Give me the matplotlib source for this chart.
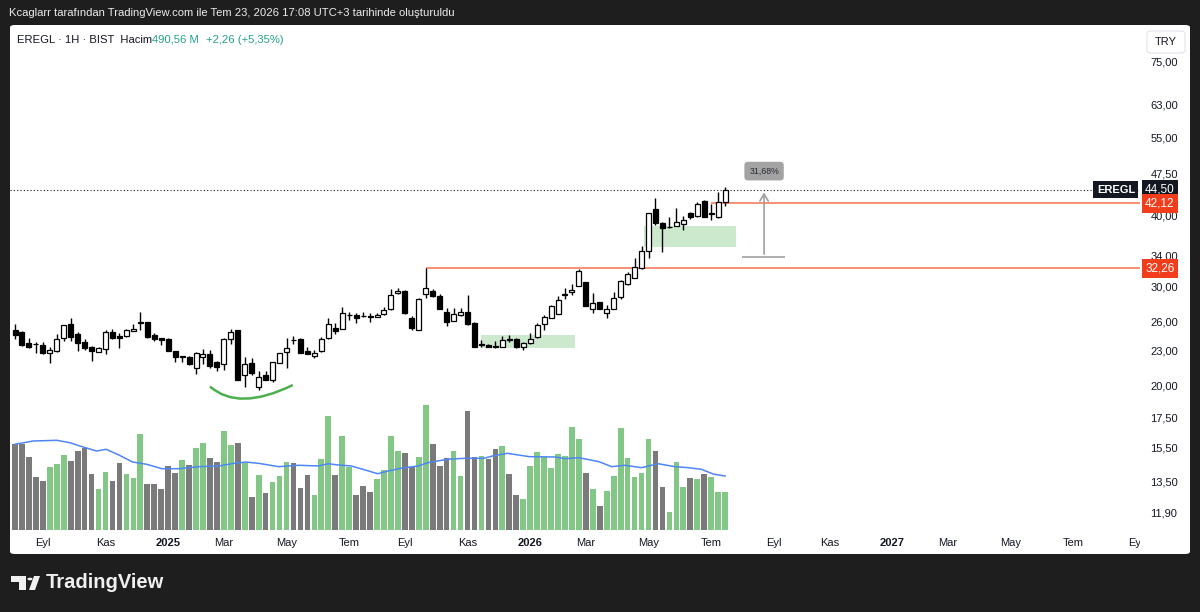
import datetime as dt

import matplotlib
matplotlib.use("Agg")
import matplotlib.pyplot as plt
import matplotlib.transforms as mtransforms
import numpy as np
from matplotlib.patches import FancyBboxPatch, Polygon, Circle, PathPatch
from matplotlib.path import Path
from matplotlib.ticker import NullLocator, NullFormatter

plt.rcParams['font.family'] = ['Liberation Sans', 'DejaVu Sans']

# haftalik mumlar, ilk mum 5 Agustos 2024 haftasi
ilk_hafta = dt.date(2024, 8, 5)

acilis = [25.06, 24.86, 23.80, 23.70, 23.57, 22.84, 23.00, 24.29, 25.69, 24.63,
          23.89, 23.41, 22.93, 23.18, 24.89, 24.49, 24.46, 24.96, 25.76, 25.90,
          24.53, 24.26, 24.16, 23.00, 22.45, 22.42, 21.43, 22.48, 22.72, 22.02,
          21.81, 24.13, 25.06, 20.85, 21.87, 19.87, 20.85, 20.43, 21.93, 22.93,
          24.06, 24.16, 23.03, 22.56, 23.00, 24.23, 25.30, 25.16, 26.62, 26.65,
          26.54, 26.49, 26.47, 26.73, 27.28, 29.12, 29.40, 26.29, 25.06, 29.00,
          29.44, 28.80, 26.95, 26.04, 26.65, 27.01, 25.83, 23.57, 23.57, 23.43,
          23.41, 24.16, 24.16, 23.35, 23.74, 24.33, 25.69, 26.36, 26.76, 28.96,
          29.24, 30.04, 30.46, 27.35, 28.10, 26.84, 27.35, 28.72, 30.21, 31.00,
          32.26, 34.62, 41.11, 38.78, 38.20, 38.40, 38.67, 40.50, 39.95, 42.48,
          40.28, 39.74, 42.30]
yuksek = [25.69, 24.96, 24.29, 23.89, 23.89, 23.41, 24.63, 25.58, 26.29, 24.83,
          24.16, 23.50, 23.41, 25.06, 25.16, 24.79, 25.16, 25.65, 27.01, 25.93,
          24.73, 24.29, 24.23, 23.03, 22.56, 22.56, 22.88, 23.15, 23.09, 22.08,
          24.23, 25.16, 25.11, 22.45, 22.39, 21.22, 21.22, 22.02, 22.84, 24.29,
          24.49, 24.23, 23.41, 23.09, 24.39, 26.29, 25.76, 27.57, 27.01, 26.84,
          26.95, 26.84, 26.84, 27.51, 29.64, 29.80, 29.46, 26.54, 28.53, 32.26,
          29.64, 29.00, 27.40, 27.40, 27.40, 28.92, 25.93, 24.06, 23.64, 23.96,
          24.49, 24.56, 24.23, 23.83, 24.79, 25.83, 26.65, 27.73, 28.80, 29.80,
          30.21, 32.13, 30.50, 29.12, 28.14, 27.76, 29.31, 30.69, 31.82, 33.64,
          35.27, 40.44, 43.05, 39.04, 39.84, 41.23, 40.00, 40.66, 42.36, 42.65,
          41.91, 44.12, 44.93]
dusuk = [24.13, 23.47, 23.25, 22.79, 22.72, 21.87, 22.95, 23.96, 23.99, 23.00,
         23.09, 22.08, 22.88, 22.72, 24.16, 23.31, 24.33, 24.91, 25.06, 24.23,
         23.96, 23.57, 23.00, 22.02, 21.96, 21.72, 20.94, 21.78, 21.43, 21.19,
         21.28, 23.67, 20.39, 19.85, 20.85, 19.61, 20.39, 20.29, 21.87, 21.43,
         23.64, 22.81, 22.70, 22.33, 22.93, 24.20, 24.63, 25.13, 26.11, 25.83,
         26.40, 25.93, 26.43, 26.69, 27.24, 29.09, 26.76, 25.06, 25.03, 28.61,
         28.65, 27.28, 25.48, 26.00, 26.58, 25.62, 23.35, 23.35, 23.35, 23.31,
         23.38, 23.83, 23.32, 23.09, 23.71, 24.23, 25.06, 26.29, 26.73, 28.41,
         28.92, 30.01, 27.62, 26.84, 27.28, 26.29, 27.31, 28.41, 30.18, 30.96,
         32.17, 33.60, 38.51, 34.52, 38.09, 38.35, 37.73, 39.46, 39.84, 39.74,
         39.30, 39.69, 41.67]
kapanis = [24.56, 23.57, 23.38, 23.67, 22.79, 23.09, 24.13, 25.55, 24.33, 23.74,
           23.25, 23.03, 23.31, 24.89, 24.29, 24.26, 25.06, 25.16, 25.90, 24.33,
           24.19, 24.06, 23.03, 22.42, 22.52, 21.81, 22.79, 22.70, 21.63, 21.57,
           24.13, 24.89, 20.43, 21.81, 20.99, 20.71, 20.43, 21.99, 22.79, 23.25,
           24.03, 22.84, 22.72, 22.84, 24.16, 25.65, 24.96, 26.84, 26.65, 26.29,
           26.51, 26.46, 26.65, 27.20, 28.92, 29.40, 26.84, 25.23, 28.45, 29.72,
           28.84, 27.31, 25.93, 26.73, 26.95, 25.65, 23.38, 23.64, 23.41, 23.40,
           24.06, 24.03, 23.35, 23.74, 24.19, 25.55, 26.47, 27.70, 28.33, 29.04,
           29.52, 31.95, 27.65, 27.95, 27.31, 27.35, 28.61, 30.66, 31.51, 32.41,
           34.61, 40.39, 38.78, 38.09, 38.25, 38.94, 39.25, 39.74, 41.91, 39.84,
           40.44, 42.24, 44.50]
# hacim, milyon lot
hacim = [1114, 1114, 938, 684, 632, 813, 852, 972, 886, 1019,
         1062, 719, 525, 744, 632, 864, 719, 671, 1238, 597,
         597, 525, 826, 731, 903, 839, 1058, 1118, 929, 877,
         1277, 1097, 1118, 868, 430, 706, 477, 619, 697, 877,
         860, 538, 706, 452, 912, 1467, 706, 1213, 813, 452,
         568, 490, 658, 770, 1213, 1019, 993, 813, 938, 1613,
         1106, 826, 929, 1019, 697, 1531, 946, 955, 920, 1045,
         1084, 719, 452, 404, 826, 1006, 942, 804, 977, 951,
         1333, 1178, 731, 525, 310, 503, 697, 1312, 925, 684,
         731, 1170, 1019, 555, 236, 877, 555, 671, 658, 719,
         684, 490, 491]
# hacim ortalamasi (grafikten okunan noktalar)
ort_x = [0, 2.6, 6, 7.9, 9.3, 11.7, 13.1, 15, 16.9, 18.9, 21.1, 23.6, 26.4, 29.3,
         31.1, 33.1, 35, 37.9, 40.7, 43.6, 45, 46.4, 48.3, 50.3, 52.1, 53.6, 55.4,
         57.9, 59.3, 62.1, 64.6, 67.4, 68.6, 70.7, 73.9, 77.6, 79, 81, 83.9, 85.7,
         87.6, 90, 92.4, 94.8, 96.7, 98.6, 100.4, 102]
ort_hacim = [1106, 1148, 1157, 1126, 1084, 1019, 1041, 964, 877, 848, 791, 791,
             817, 826, 855, 877, 860, 817, 835, 826, 855, 839, 826, 774, 726, 761,
             796, 826, 868, 912, 925, 925, 955, 989, 946, 942, 920, 933, 881, 817,
             835, 804, 855, 817, 804, 783, 719, 697]

fiyat_ticks = [75, 63, 55, 47.5, 40, 34, 30, 26, 23, 20, 17.5, 15.5, 13.5, 11.9]
ay_adlari = {3: "Mar", 5: "May", 7: "Tem", 9: "Eyl", 11: "Kas"}

son_fiyat = 44.50
direnc = 42.12
destek = 32.26
olcum_alt = 33.79

W, H = 1200, 612


def fx(x):
    return x / W


def fy(y):
    return 1 - y / H


fig = plt.figure(figsize=(12, 6.12), dpi=100, facecolor="#1e1e1e")
fig.patches.append(FancyBboxPatch((fx(10), fy(554)), fx(1180), 529 / H,
                                  boxstyle="round,pad=0,rounding_size=0.004",
                                  transform=fig.transFigure, fc="white", ec="none",
                                  zorder=-5))

ax2 = fig.add_axes([fx(10), fy(530), fx(1130), 505 / H])
ax = fig.add_axes([fx(10), fy(530), fx(1130), 505 / H], sharex=ax2)
ax2.set_zorder(1)
ax.set_zorder(2)
for a in (ax, ax2):
    a.patch.set_visible(False)
    for s in a.spines.values():
        s.set_visible(False)

n = len(kapanis)
x = np.arange(n)
o = np.array(acilis)
c = np.array(kapanis)
up = c >= o

# hacim
ax2.bar(x, hacim, width=0.82, color=np.where(up, "#82c785", "#7a7a7a"), zorder=2)
ax2.plot(ort_x, ort_hacim, color="#4f86f7", lw=1.1, zorder=3)
ax2.set_ylim(0, 505 * 12.9)
ax2.set_yticks([])
ax2.tick_params(axis="x", bottom=False, labelbottom=False)

# mumlar
ax.set_yscale("log")
ax.vlines(x, dusuk, yuksek, color="black", lw=1, zorder=3)
alt = np.minimum(o, c)
ust = np.maximum(o, c)
ax.bar(x, ust - alt, bottom=alt, width=0.72, color=np.where(up, "white", "black"),
       edgecolor="black", linewidth=0.9, zorder=4)

ax.set_xlim(-0.72, 161.6)
ax.set_ylim(11.06, 87.25)

# yesil bolgeler
ax.fill_between([66.9, 80.5], 23.25, 24.56, color="#cce8cd", lw=0, zorder=1)
ax.fill_between([90.4, 103.6], 35.19, 38.40, color="#cce8cd", lw=0, zorder=1)

# yatay seviyeler
ax.hlines(destek, 59.1, 161.6, color="#f7866a", lw=1.3, zorder=2)
ax.hlines(direnc, 100, 161.6, color="#f7866a", lw=1.3, zorder=2)
ax.axhline(son_fiyat, color="#131722", lw=0.8, ls=(0, (1, 2)), zorder=2)

# dip yay
yay = Path([(28.0, 19.89), (32.1, 17.95), (39.9, 20.01)],
           [Path.MOVETO, Path.CURVE3, Path.CURVE3])
ax.add_patch(PathPatch(yay, fc="none", ec="#4caf50", lw=1.8, zorder=3))

# olcum araci
ax.hlines(olcum_alt, 104.5, 110.6, color="#a0a0a0", lw=1.2, zorder=3)
ax.annotate("", xy=(107.6, son_fiyat), xytext=(107.6, olcum_alt),
            arrowprops=dict(arrowstyle="->,head_length=0.5,head_width=0.3",
                            color="#a0a0a0", lw=1.2), zorder=3)
ax.text(107.6, 48.0, "31,68%", fontsize=6.3, color="#2a2e39", ha="center", va="center",
        bbox=dict(boxstyle="round,pad=0.55,rounding_size=0.4", fc="#a3a3a3", ec="none"),
        zorder=5)

# fiyat ekseni
ax.yaxis.tick_right()
ax.set_yticks(fiyat_ticks)
ax.set_yticklabels([f"{t:.2f}".replace(".", ",") for t in fiyat_ticks])
ax.yaxis.set_minor_locator(NullLocator())
ax.yaxis.set_minor_formatter(NullFormatter())
ax.tick_params(axis="y", length=0, pad=7.5, labelsize=8, labelcolor="#131722")

tr = mtransforms.blended_transform_factory(ax.transAxes, ax.transData)
ax.text(0.9956, son_fiyat, "EREGL", transform=tr, ha="right", va="center", fontsize=8,
        color="white", fontweight="bold", zorder=10, clip_on=False,
        bbox=dict(boxstyle="square,pad=0.3", fc="#131722", ec="none"))
for deger, renk in [(son_fiyat, "#131722"), (direnc, "#f23d1c"), (destek, "#f23d1c")]:
    ax.text(1.0045, deger, f"{deger:.2f}".replace(".", ","), transform=tr, ha="left",
            va="center", fontsize=8.5, color="white", zorder=10, clip_on=False,
            bbox=dict(boxstyle="square,pad=0.3", fc=renk, ec="none"))

# zaman ekseni
tick_x, tick_lbl, kalin = [], [], []
yil, ay = 2024, 9
while (yil, ay) <= (2027, 9):
    d = dt.date(yil, ay, 1)
    pazartesi = d + dt.timedelta(days=(7 - d.weekday()) % 7)
    tick_x.append((pazartesi - ilk_hafta).days / 7)
    tick_lbl.append(str(yil) if ay == 1 else ay_adlari[ay])
    kalin.append(ay == 1)
    ay += 2
    if ay > 12:
        ay -= 12
        yil += 1
ax.set_xticks(tick_x)
ax.set_xticklabels(tick_lbl)
ax.tick_params(axis="x", length=0, pad=6, labelsize=8, labelcolor="#131722")
kirp = mtransforms.Bbox.from_extents(0, 0, 1140, H)
for lbl, k in zip(ax.get_xticklabels(), kalin):
    if k:
        lbl.set_fontweight("bold")
    lbl.set_clip_on(True)
    lbl.set_clip_box(kirp)

# ust yazilar
fig.text(fx(9), fy(13), "Kcaglarr tarafından TradingView.com ile Tem 23, 2026 17:08 UTC+3 "
         "tarihinde oluşturuldu", color="#ececec", fontsize=8.1, va="center")

renderer = fig.canvas.get_renderer()
bas_x = 17
for parca, renk, bosluk in [("EREGL · 1H · BIST  Hacim", "#131722", 0),
                            ("490,56 M", "#22a08c", 7),
                            ("+2,26 (+5,35%)", "#22a08c", 0)]:
    t = fig.text(fx(bas_x), fy(40), parca, color=renk, fontsize=8.1, va="center")
    bas_x += t.get_window_extent(renderer).width + bosluk

fig.patches.append(FancyBboxPatch((fx(1147), fy(53)), fx(38), 22 / H,
                                  boxstyle="round,pad=0,rounding_size=0.004",
                                  transform=fig.transFigure, fc="white", ec="#e0e3eb", lw=0.8))
fig.text(fx(1166), fy(42), "TRY", color="#131722", fontsize=8, ha="center", va="center")

# TradingView logosu
fig.patches.append(Polygon([(fx(11), fy(576)), (fx(26), fy(576)), (fx(26), fy(590)),
                            (fx(19), fy(590)), (fx(19), fy(582)), (fx(11), fy(582))],
                           closed=True, transform=fig.transFigure, fc="#f0f0f0", ec="none"))
fig.patches.append(Circle((fx(30), fy(579)), 2.6 / W, transform=fig.transFigure,
                          fc="#f0f0f0", ec="none"))
fig.patches.append(Polygon([(fx(29), fy(590)), (fx(35), fy(590)), (fx(40), fy(576)),
                            (fx(34), fy(576))],
                           closed=True, transform=fig.transFigure, fc="#f0f0f0", ec="none"))
fig.text(fx(46), fy(583), "TradingView", color="#f0f0f0", fontsize=14.5,
         fontweight="bold", va="center")

fig.savefig("out.png", dpi=100, facecolor=fig.get_facecolor())
